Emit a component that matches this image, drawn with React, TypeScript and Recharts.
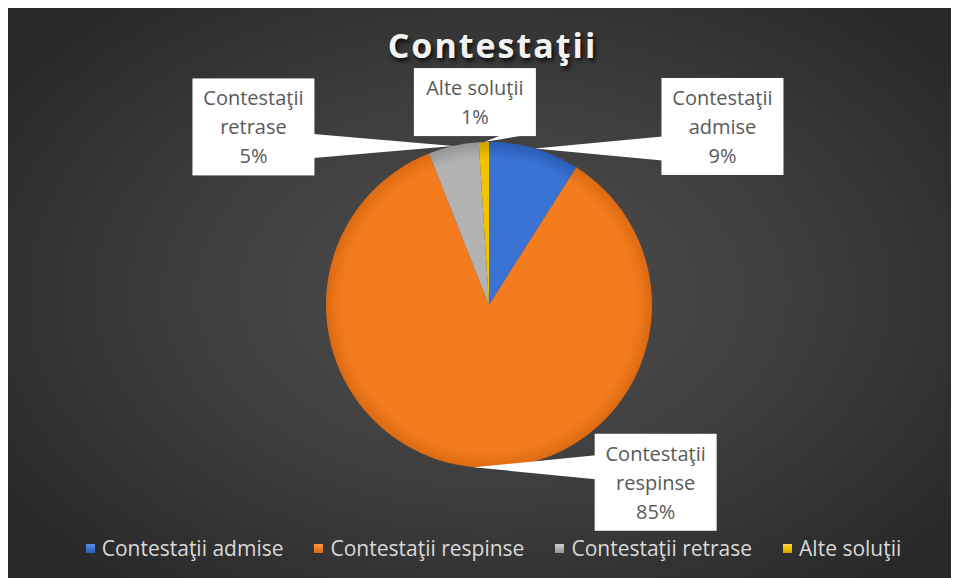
import React from 'react';
import { PieChart, Pie, Cell, Legend } from 'recharts';

const categories = ['Contestaţii admise', 'Contestaţii respinse', 'Contestaţii retrase', 'Alte soluţii'];
const values = [9, 85, 5, 1];
const labelLines = [['Contestaţii', 'admise'], ['Contestaţii', 'respinse'], ['Contestaţii', 'retrase'], ['Alte soluţii']];
const title = 'Contestaţii';

const colors = ['#3a73d4', '#f47c1e', '#b3b3b3', '#f2c200'];
const darkColors = ['#2a5cb5', '#dc6a12', '#949494', '#cf9f00'];
const lightColors = ['#5b8fe6', '#ff9a45', '#d0d0d0', '#ffd84a'];
const labelOffsets = [
  { dx: 188, dy: -22 },
  { dx: 182, dy: 15 },
  { dx: -200, dy: -19 },
  { dx: -9, dy: -40 },
];

const data = categories.map((name, i) => ({ name, value: values[i] }));

const W = 949;
const H = 570;
const CX = 481;
const CY = 297;
const R = 163;
const FONT = "'Open Sans', sans-serif";
const RADIAN = Math.PI / 180;

const renderLabel = (props: any) => {
  const { cx, cy, midAngle, outerRadius, index, percent } = props;
  const tx = cx + outerRadius * Math.cos(-midAngle * RADIAN);
  const ty = cy + outerRadius * Math.sin(-midAngle * RADIAN);
  const lines = [...labelLines[index], `${Math.round(percent * 100)}%`];
  const lh = 29;
  const bw = 122;
  const bh = lines.length * lh + 10;
  const bcx = tx + labelOffsets[index].dx;
  const bcy = ty + labelOffsets[index].dy;
  const left = bcx - bw / 2;
  const right = bcx + bw / 2;
  const top = bcy - bh / 2;
  const bottom = bcy + bh / 2;
  const half = 12;
  let pts: string;
  if (tx < left) {
    const y = Math.min(Math.max(ty, top + half), bottom - half);
    pts = `${tx},${ty} ${left + 1},${y - half} ${left + 1},${y + half}`;
  } else if (tx > right) {
    const y = Math.min(Math.max(ty, top + half), bottom - half);
    pts = `${tx},${ty} ${right - 1},${y - half} ${right - 1},${y + half}`;
  } else {
    const x = Math.min(Math.max(tx + 30, left + half), right - half);
    pts = `${tx},${ty} ${x - half},${bottom - 1} ${x + half},${bottom - 1}`;
  }
  return (
    <g key={`lbl-${index}`}>
      <polygon points={pts} fill="#ffffff" />
      <rect x={left} y={top} width={bw} height={bh} fill="#ffffff" />
      {lines.map((t, k) => (
        <text
          key={k}
          x={bcx}
          y={top + 5 + lh * k + lh / 2}
          textAnchor="middle"
          dominantBaseline="central"
          fontFamily={FONT}
          fontSize={20}
          fill="#595959"
        >
          {t}
        </text>
      ))}
    </g>
  );
};

const renderLegend = () => (
  <div
    style={{
      display: 'flex',
      justifyContent: 'center',
      gap: 31,
      paddingLeft: 22,
      fontFamily: FONT,
      fontSize: 21,
      color: '#d9d9d9',
      lineHeight: '24px',
    }}
  >
    {categories.map((c, i) => (
      <div key={c} style={{ display: 'flex', alignItems: 'center' }}>
        <span
          style={{
            display: 'inline-block',
            width: 9,
            height: 9,
            marginRight: 7,
            background: `linear-gradient(180deg, ${lightColors[i]} 0%, ${colors[i]} 50%, ${darkColors[i]} 100%)`,
          }}
        />
        <span>{c}</span>
      </div>
    ))}
  </div>
);

export default function App() {
  return (
    <div
      style={{
        position: 'relative',
        width: W,
        height: H,
        background:
          'radial-gradient(ellipse 62% 68% at 51% 50%, #4e4e4e 0%, #3e3e3e 50%, #282828 100%)',
      }}
    >
      <svg width={0} height={0} style={{ position: 'absolute' }}>
        <defs>
          {colors.map((c, i) => (
            <radialGradient
              key={i}
              id={`sl${i}`}
              gradientUnits="userSpaceOnUse"
              cx={CX}
              cy={CY}
              r={R}
            >
              <stop offset="0%" stopColor={colors[i]} />
              <stop offset="90%" stopColor={colors[i]} />
              <stop offset="100%" stopColor={darkColors[i]} />
            </radialGradient>
          ))}
        </defs>
      </svg>
      <div
        style={{
          position: 'absolute',
          left: 0,
          width: W,
          top: 14,
          textAlign: 'center',
          paddingLeft: 20,
          boxSizing: 'border-box',
          fontFamily: "'Open Sans', sans-serif",
          fontWeight: 700,
          fontSize: 34,
          letterSpacing: 2,
          color: '#f2f2f2',
          textShadow: '2px 3px 4px rgba(0,0,0,0.8)',
          zIndex: 2,
          pointerEvents: 'none',
        }}
      >
        {title}
      </div>
      <PieChart width={W} height={H} margin={{ top: 0, right: 0, bottom: 0, left: 0 }}>
        <Pie
          data={data}
          dataKey="value"
          nameKey="name"
          cx={CX}
          cy={CY}
          outerRadius={R}
          startAngle={90}
          endAngle={-270}
          stroke="none"
          label={renderLabel}
          labelLine={false}
          isAnimationActive={false}
        >
          {data.map((d, i) => (
            <Cell key={d.name} fill={`url(#sl${i})`} />
          ))}
        </Pie>
        <Legend
          content={renderLegend}
          wrapperStyle={{ position: 'absolute', left: 0, top: 528, width: W, bottom: 'auto' }}
        />
      </PieChart>
    </div>
  );
}
